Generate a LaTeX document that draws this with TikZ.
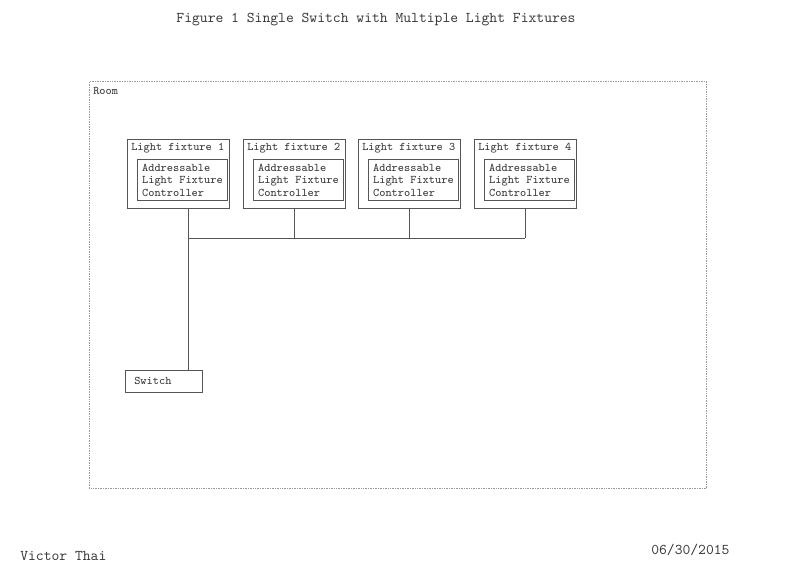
\documentclass[tikz,border=0pt]{standalone}
\usepackage{fontspec}
\usepackage{xcolor}
\usepackage{tikz}
\usetikzlibrary{positioning, calc}
\definecolor{inkline}{HTML}{555555}
\definecolor{inktext}{HTML}{3a3a3a}
\definecolor{roomline}{HTML}{9a9a9a}

\begin{document}
\begin{tikzpicture}[
    x=0.025cm, y=-0.025cm,
    heading/.style={
        font=\fontsize{10.6}{12}\selectfont\ttfamily, text=inktext, inner sep=0pt,
    },
    small/.style={
        anchor=west, font=\fontsize{8.3}{8.9}\selectfont\ttfamily, text=inktext,
        inner sep=0pt,
    },
    room/.style={
        rectangle, draw=roomline, line width=0.7pt,
        dash pattern=on 0.6pt off 0.6pt, anchor=north west,
        minimum width=15.425cm, minimum height=10.175cm, inner sep=0pt,
    },
    fixture/.style={
        rectangle, draw=inkline, line width=0.6pt, anchor=north west,
        minimum width=2.55cm, minimum height=1.725cm, inner sep=0pt,
    },
    ctrl/.style={
        rectangle, draw=inkline, line width=0.6pt, anchor=north west,
        font=\fontsize{8.3}{8.9}\selectfont\ttfamily, text=inktext,
        align=left, minimum width=2.25cm, minimum height=1.025cm,
        inner xsep=3.3pt, inner ysep=0pt,
    },
    switchbox/.style={
        rectangle, draw=inkline, line width=0.6pt, anchor=north west,
        minimum width=1.925cm, minimum height=0.55cm, inner sep=0pt,
    },
    wire/.style={draw=inkline, line width=0.6pt},
]
\useasboundingbox (0,0) rectangle (800,582);

% ── Title ───────────────────────────────────────────────────────────────────
\node[heading] (title) at (376,20) {Figure 1 Single Switch with Multiple Light Fixtures};

% ── Room outline ────────────────────────────────────────────────────────────
\node[room] (room) at (89,81) {};
\node[small] (roomlbl) at (93,91) {Room};

% ── Light fixtures ──────────────────────────────────────────────────────────
\def\fixY{139}
\def\ctrlY{159}

\node[fixture] (lf1) at (127,\fixY) {};
\node[small] (lf1t) at (131,\fixY+9) {Light fixture 1};
\node[ctrl] (lf1c) at (137,\ctrlY) {Addressable\\Light Fixture\\Controller};

\node[fixture] (lf2) at (243,\fixY) {};
\node[small] (lf2t) at (247,\fixY+9) {Light fixture 2};
\node[ctrl] (lf2c) at (253,\ctrlY) {Addressable\\Light Fixture\\Controller};

\node[fixture] (lf3) at (358,\fixY) {};
\node[small] (lf3t) at (362,\fixY+9) {Light fixture 3};
\node[ctrl] (lf3c) at (368,\ctrlY) {Addressable\\Light Fixture\\Controller};

\node[fixture] (lf4) at (474,\fixY) {};
\node[small] (lf4t) at (478,\fixY+9) {Light fixture 4};
\node[ctrl] (lf4c) at (484,\ctrlY) {Addressable\\Light Fixture\\Controller};

% ── Switch ──────────────────────────────────────────────────────────────────
\node[switchbox] (sw) at (125,370) {};
\node[small] (swt) at (134,381) {Switch};

% ── Wiring ──────────────────────────────────────────────────────────────────
\coordinate (drop) at (188,238);

\draw[wire] (lf1.south -| drop) -- (sw.north -| drop);
\draw[wire] (drop) -- (lf4.south |- drop);
\draw[wire] (lf2.south) -- (lf2.south |- drop);
\draw[wire] (lf3.south) -- (lf3.south |- drop);
\draw[wire] (lf4.south) -- (lf4.south |- drop);

% ── Footer ──────────────────────────────────────────────────────────────────
\node[heading, anchor=west] (author) at (20,556) {Victor Thai};
\node[heading, anchor=west] (date) at (651,550) {06/30/2015};

\end{tikzpicture}
\end{document}
